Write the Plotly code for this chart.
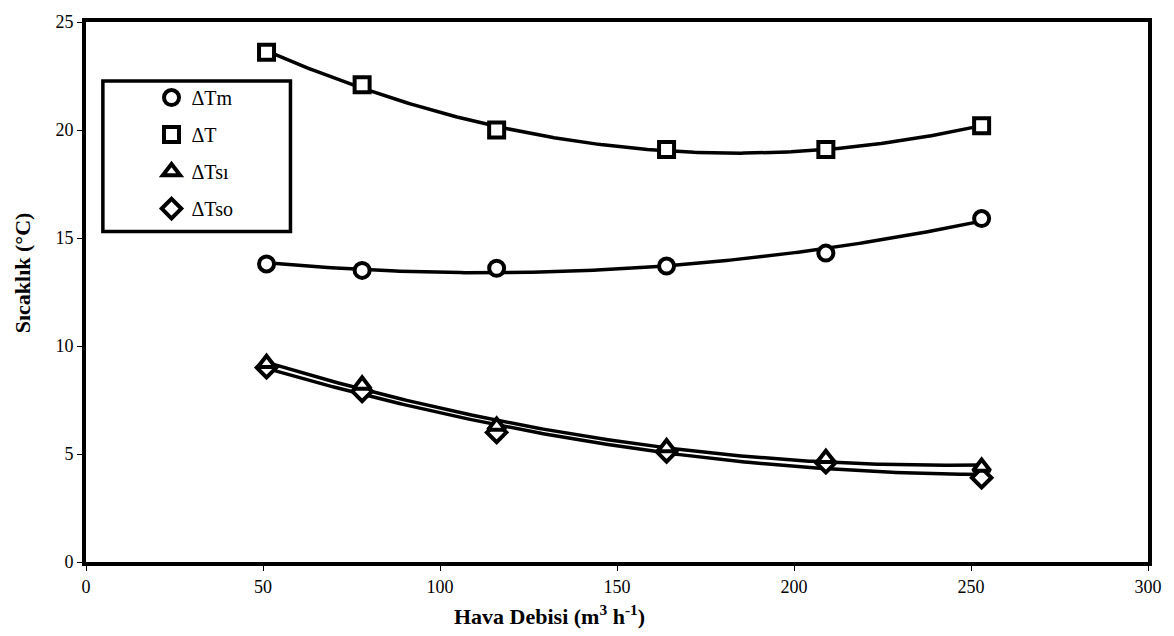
import numpy as np
import plotly.graph_objects as go

# Data
hava_debisi = [51, 78, 116, 164, 209, 253]
dT_m = [13.8, 13.5, 13.6, 13.7, 14.3, 15.9]
dT = [23.6, 22.1, 20.0, 19.1, 19.1, 20.2]
dT_si = [9.2, 8.2, 6.3, 5.3, 4.8, 4.4]
dT_so = [9.0, 7.9, 6.0, 5.1, 4.6, 3.9]

series_names = ["\u0394Tm", "\u0394T", "\u0394Ts\u0131", "\u0394Tso"]
series_values = [dT_m, dT, dT_si, dT_so]
series_symbols = ["circle", "square", "triangle-up", "diamond"]
draw_order = [0, 1, 3, 2]  # triangles drawn over diamonds

x_ticks = [0, 50, 100, 150, 200, 250, 300]
y_ticks = [0, 5, 10, 15, 20, 25]

FONT = "Liberation Serif"

fig = go.Figure()

# Polynomial trendlines (order 2) fitted to each series
xs = np.asarray(hava_debisi, dtype=float)
xfit = np.linspace(xs.min(), xs.max(), 200)
for vals in series_values:
    coef = np.polyfit(xs, np.asarray(vals, dtype=float), 2)
    fig.add_trace(go.Scatter(
        x=xfit, y=np.polyval(coef, xfit), mode="lines",
        line=dict(color="black", width=3.5), showlegend=False, hoverinfo="skip"))

for i in draw_order:
    fig.add_trace(go.Scatter(
        x=hava_debisi, y=series_values[i], mode="markers", name=series_names[i],
        legendgroup=series_names[i], legendrank=i + 1,
        marker=dict(symbol=series_symbols[i], size=15, color="white",
                    line=dict(color="black", width=4))))

L, R, T, B = 86, 18, 13, 74
W, H = 1174, 636
pw, ph = W - L - R, H - T - B

def px_x(p):
    return (p - L) / pw

def px_y(p):
    return (H - B - p) / ph

fig.update_layout(
    width=W, height=H,
    margin=dict(l=L, r=R, t=T, b=B),
    paper_bgcolor="white", plot_bgcolor="white",
    font=dict(family=FONT, color="black", size=18),
    showlegend=True,
    legend=dict(x=px_x(152), y=px_y(70), xanchor="left", yanchor="top",
                bgcolor="rgba(0,0,0,0)", borderwidth=0,
                font=dict(family=FONT, size=20, color="black"),
                tracegroupgap=8, traceorder="grouped"),
    xaxis=dict(range=[0, 300], tickvals=x_ticks, showgrid=False, zeroline=False,
               showline=True, linecolor="black", linewidth=4, mirror=True,
               ticks="outside", ticklen=5, tickwidth=1, tickcolor="black",
               tickfont=dict(family=FONT, size=18)),
    yaxis=dict(range=[0, 25], tickvals=y_ticks, showgrid=False, zeroline=False,
               showline=True, linecolor="black", linewidth=4, mirror=True,
               ticks="outside", ticklen=5, tickwidth=1, tickcolor="black",
               tickfont=dict(family=FONT, size=18)),
    shapes=[dict(type="rect", xref="paper", yref="paper",
                 x0=px_x(103), x1=px_x(292), y0=px_y(226), y1=px_y(73),
                 line=dict(color="black", width=3.5), fillcolor="rgba(0,0,0,0)")],
    annotations=[
        dict(text="<b>Hava Debisi (m<sup>3</sup> h<sup>-1</sup>)</b>", xref="paper", yref="paper",
             x=px_x(553), y=px_y(616), xanchor="center", yanchor="middle",
             showarrow=False, font=dict(family=FONT, size=22, color="black")),
        dict(text="<b>S\u0131cakl\u0131k (\u00b0C)</b>", xref="paper", yref="paper",
             x=px_x(22), y=px_y(268), xanchor="center", yanchor="middle",
             textangle=-90, showarrow=False,
             font=dict(family=FONT, size=22, color="black")),
    ],
)

fig.write_html("out.html", config={"displayModeBar": False},
               post_script="document.body.style.margin='0px';document.body.style.overflow='hidden';")
